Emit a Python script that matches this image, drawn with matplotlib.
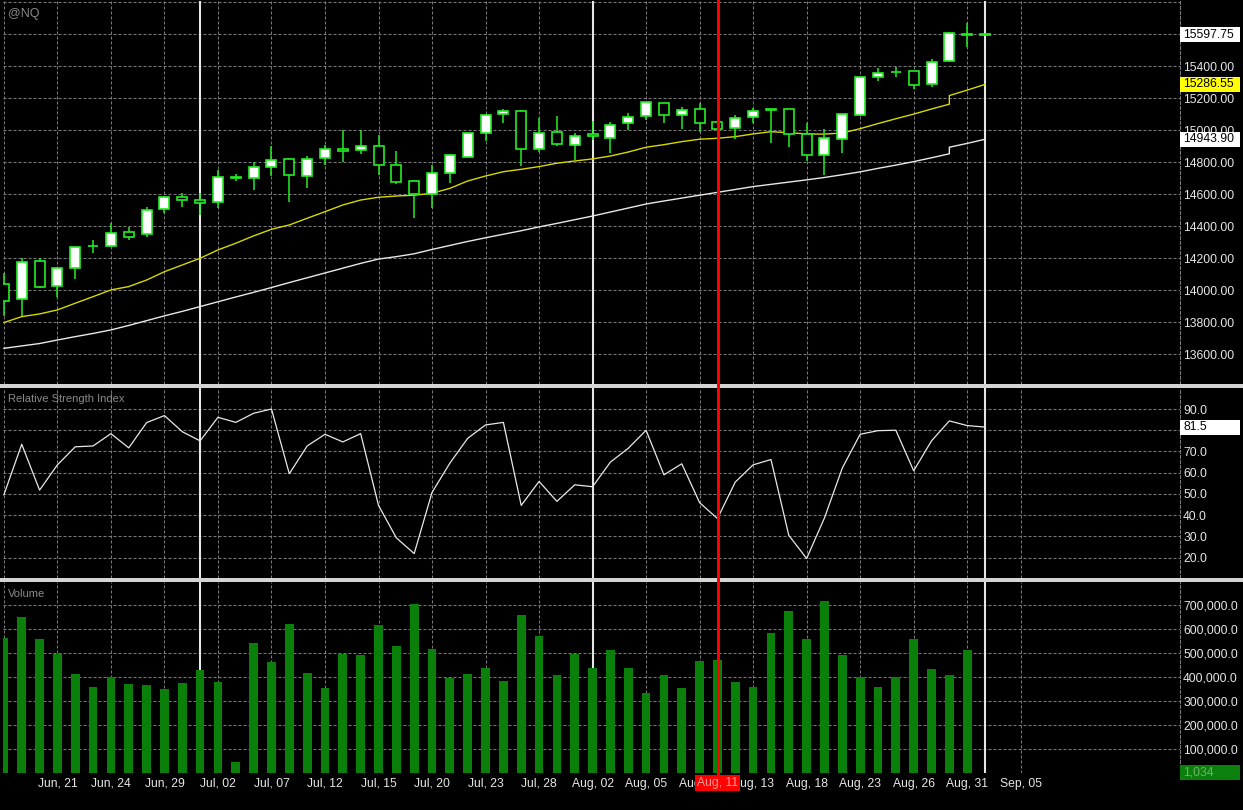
import numpy as np
import matplotlib
matplotlib.use("Agg")
import matplotlib.pyplot as plt
from matplotlib.patches import Rectangle
from matplotlib.lines import Line2D
from matplotlib.ticker import FixedLocator, FuncFormatter

plt.rcParams['font.family'] = ['Liberation Sans', 'DejaVu Sans']

# ---- data (one bar per trading session) ----
opens = [14040, 13946, 14183, 14027, 14140, 14274, 14277, 14367, 14352, 14510,
         14585, 14565, 14550, 14702, 14700, 14770, 14820, 14712, 14824, 14884,
         14876, 14899, 14781, 14683, 14602, 14731, 14835, 14981, 15100, 15123,
         14881, 14987, 14906, 14975, 14954, 15044, 15087, 15171, 15096, 15131,
         15050, 15013, 15083, 15127, 15131, 14978, 14847, 14947, 15095, 15332,
         15363, 15369, 15288, 15432, 15604, 15597.75]
highs = [14105, 14202, 14202, 14144, 14273, 14317, 14419, 14398, 14523, 14587,
         14606, 14606, 14749, 14726, 14799, 14899, 14826, 14837, 14909, 14999,
         14999, 14972, 14873, 14690, 14783, 14850, 14985, 15100, 15133, 15127,
         15075, 15090, 14981, 15060, 15054, 15106, 15178, 15173, 15144, 15173,
         15055, 15096, 15138, 15135, 15135, 15045, 15007, 15103, 15336, 15388,
         15394, 15372, 15444, 15617, 15673, 15597.75]
lows = [13840, 13842, 14013, 13956, 14071, 14233, 14273, 14315, 14335, 14483,
        14522, 14471, 14515, 14681, 14629, 14712, 14550, 14639, 14785, 14799,
        14853, 14718, 14663, 14450, 14512, 14673, 14831, 14935, 15044, 14779,
        14865, 14904, 14815, 14940, 14856, 15002, 15065, 15048, 15006, 14992,
        15002, 14944, 15044, 14919, 14898, 14810, 14718, 14857, 15090, 15311,
        15336, 15259, 15269, 15425, 15519, 15597.75]
closes = [13935, 14175, 14019, 14140, 14269, 14279, 14356, 14331, 14502, 14583,
          14563, 14546, 14708, 14706, 14770, 14814, 14718, 14820, 14882, 14868,
          14899, 14782, 14675, 14600, 14731, 14844, 14981, 15094, 15123, 14885,
          14985, 14913, 14967, 14963, 15032, 15081, 15175, 15094, 15129, 15048,
          15008, 15079, 15123, 15133, 14975, 14843, 14949, 15099, 15330, 15361,
          15367, 15286, 15429, 15606, 15598, 15597.75]
volumes = [561000, 649000, 557000, 497000, 411000, 357000, 399000, 370000, 365000, 349000,
           374000, 428000, 378000, 46000, 540000, 461000, 619000, 415000, 353000, 497000,
           490000, 615000, 528000, 703000, 515000, 395000, 411000, 436000, 382000, 657000,
           571000, 407000, 497000, 436000, 511000, 436000, 332000, 407000, 353000, 465000,
           470000, 378000, 357000, 582000, 674000, 557000, 715000, 490000, 399000, 357000,
           399000, 557000, 432000, 407000, 511000, 1034]
rsi = [49.6, 73.4, 51.8, 63.7, 72.2, 72.6, 78.4, 71.7, 83.6, 86.9,
       79.3, 75.0, 86.1, 83.7, 88.0, 90.0, 59.5, 72.6, 78.1, 74.5,
       78.4, 44.6, 29.3, 21.9, 50.7, 64.5, 76.2, 82.5, 83.7, 44.6,
       55.9, 46.5, 54.3, 53.4, 65.0, 71.5, 80.0, 59.0, 64.2, 45.9,
       38.4, 55.6, 63.7, 66.2, 30.5, 19.6, 38.7, 62.2, 78.1, 79.8,
       80.0, 60.9, 75.0, 84.4, 82.2, 81.5]

# moving averages (bar 53 has a jump in both lines, so it appears twice)
ma_bars = list(range(54)) + [53, 54, 55]
ma_fast = [13798, 13835, 13852, 13877, 13919, 13960, 14002, 14023, 14064, 14116,
           14158, 14200, 14252, 14294, 14340, 14381, 14408, 14450, 14491, 14533,
           14564, 14581, 14589, 14594, 14606, 14637, 14683, 14714, 14741, 14756,
           14773, 14794, 14808, 14821, 14839, 14864, 14894, 14910, 14929, 14944,
           14950, 14960, 14977, 14991, 14985, 14977, 14976, 14983, 15010, 15042,
           15072, 15101, 15133, 15163, 15217, 15251, 15286.55]
ma_slow = [13637, 13652, 13667, 13689, 13710, 13730, 13752, 13780, 13810, 13840,
           13868, 13898, 13928, 13958, 13987, 14017, 14048, 14078, 14108, 14138,
           14168, 14195, 14210, 14228, 14255, 14280, 14305, 14328, 14350, 14372,
           14396, 14418, 14441, 14464, 14489, 14514, 14539, 14558, 14576, 14594,
           14612, 14630, 14648, 14662, 14676, 14690, 14705, 14722, 14740, 14762,
           14782, 14804, 14828, 14853, 14894, 14918, 14943.90]

tick_bars = list(range(0, 58, 3))
tick_labels = ['', 'Jun, 21', 'Jun, 24', 'Jun, 29', 'Jul, 02', 'Jul, 07', 'Jul, 12',
               'Jul, 15', 'Jul, 20', 'Jul, 23', 'Jul, 28', 'Aug, 02', 'Aug, 05',
               'Aug, 10', 'Aug, 13', 'Aug, 18', 'Aug, 23', 'Aug, 26', 'Aug, 31', 'Sep, 05']
month_start_bars = [11, 33, 55]
cursor_bar = 40
cursor_label = 'Aug, 11'

price_ticks = list(range(13600, 15801, 200))
rsi_ticks = list(range(20, 91, 10))
vol_ticks = list(range(0, 700001, 100000))

# ---- figure ----
W, H = 1243, 810
fig = plt.figure(figsize=(W / 100, H / 100), dpi=100, facecolor='black')

GREEN = '#22ee22'
GRID = '#7a7a7a'
TXT = '#e6e6e6'
DASH = (0, (2.9, 1.9))
x = np.arange(len(closes))
xlim = (-0.05, 65.93)


def make_ax(top, bottom):
    ax = fig.add_axes([3 / W, 1 - bottom / H, (1180 - 3) / W, (bottom - top) / H])
    ax.set_facecolor('black')
    for s in ax.spines.values():
        s.set_visible(False)
    ax.spines['right'].set_visible(True)
    ax.spines['right'].set_color(GRID)
    ax.spines['right'].set_linestyle(DASH)
    ax.spines['right'].set_linewidth(0.75)
    ax.yaxis.tick_right()
    ax.tick_params(axis='both', length=0, labelsize=8.7, labelcolor=TXT)
    ax.tick_params(axis='y', pad=2.2)
    ax.set_xlim(*xlim)
    ax.xaxis.set_major_locator(FixedLocator(tick_bars))
    ax.grid(True, color=GRID, lw=0.75, linestyle=DASH)
    ax.set_axisbelow(True)
    for b in month_start_bars:
        ax.axvline(b, color='#e6e6e6', lw=1.5, zorder=1.5)
    return ax


ax_p = make_ax(1, 384)
ax_r = make_ax(388, 578)
ax_v = make_ax(582, 773)

# price panel
ax_p.set_ylim(13414, 15808)
ax_p.yaxis.set_major_locator(FixedLocator(price_ticks))
ax_p.yaxis.set_major_formatter(FuncFormatter(lambda v, p: '' if v > 15700 else f'{v:.2f}'))
ax_p.tick_params(axis='x', labelbottom=False)
ax_p.plot(ma_bars, ma_slow, color='#e8e8e8', lw=1.0, zorder=2)
ax_p.plot(ma_bars, ma_fast, color='#d8d800', lw=1.0, zorder=2)

o = np.array(opens); c = np.array(closes)
up = c >= o
body_bot = np.minimum(o, c)
body_h = np.maximum(np.abs(c - o), 2)
ax_p.vlines(x, lows, highs, color=GREEN, lw=1.1, zorder=3)
ax_p.bar(x, body_h, bottom=body_bot, width=0.56,
         color=np.where(up, 'white', 'black'), edgecolor=GREEN, linewidth=1.2, zorder=4)

# RSI panel
ax_r.set_ylim(10.4, 99.9)
ax_r.yaxis.set_major_locator(FixedLocator(rsi_ticks))
ax_r.yaxis.set_major_formatter(FuncFormatter(lambda v, p: f'{v:.1f}'))
ax_r.tick_params(axis='x', labelbottom=False)
ax_r.plot(x, rsi, color='#e8e8e8', lw=0.9, zorder=3)

# volume panel
ax_v.set_ylim(0, 795800)
ax_v.yaxis.set_major_locator(FixedLocator(vol_ticks))
ax_v.yaxis.set_major_formatter(FuncFormatter(lambda v, p: '' if v == 0 else f'{v:,.1f}'))
ax_v.set_xticklabels(tick_labels)
ax_v.tick_params(axis='x', pad=3.5)
ax_v.bar(x, volumes, width=0.49, color='#0a800a', zorder=2)

# panel titles
fig.text(8 / W, 1 - 14 / H, '@NQ', color='#8a8a8a', fontsize=9, va='center')
fig.text(8 / W, 1 - 399 / H, 'Relative Strength Index', color='#8a8a8a', fontsize=8, va='center')
fig.text(8 / W, 1 - 594 / H, 'Volume', color='#8a8a8a', fontsize=8, va='center')

# separators between panels
for ytop in (384, 578):
    fig.add_artist(Rectangle((0, 1 - (ytop + 4) / H), 1, 4 / H, transform=fig.transFigure,
                             fc='#d4d4d4', ec='none', zorder=6))

fig.canvas.draw()


def value_box(ax, v, text, fc, tc):
    y = ax.transData.transform((0, v))[1]
    x0 = ax.transAxes.transform((1, 0))[0]
    fig.add_artist(Rectangle((x0 / W, (y - 7.5) / H), 60 / W, 15 / H, transform=fig.transFigure,
                             fc=fc, ec='none', zorder=8))
    fig.text((x0 + 3) / W, y / H, text, color=tc, fontsize=8.7, va='center', ha='left', zorder=9)


value_box(ax_p, closes[-1], f'{closes[-1]:.2f}', 'white', 'black')
value_box(ax_p, ma_fast[-1], f'{ma_fast[-1]:.2f}', '#ffff00', 'black')
value_box(ax_p, ma_slow[-1], f'{ma_slow[-1]:.2f}', 'white', 'black')
value_box(ax_r, rsi[-1], f'{rsi[-1]:.1f}', 'white', 'black')
value_box(ax_v, volumes[-1], f'{volumes[-1]:,}', '#0c800c', '#6fb06f')

# cursor line and date box
xc = round(ax_v.transData.transform((cursor_bar, 0))[0]) + 0.5
fig.add_artist(Line2D([xc / W, xc / W], [1 - 776 / H, 1], transform=fig.transFigure,
                      color='#ff0000', lw=0.9, antialiased=False, zorder=7))
fig.add_artist(Rectangle(((xc - 22.5) / W, 1 - 791 / H), 45 / W, 16 / H, transform=fig.transFigure,
                         fc='#ff0000', ec='none', zorder=8))
fig.text(xc / W, 1 - 783 / H, cursor_label, color='#ff9a9a', fontsize=8.7,
         ha='center', va='center', zorder=9)

fig.savefig('out.png', dpi=100, facecolor='black')
